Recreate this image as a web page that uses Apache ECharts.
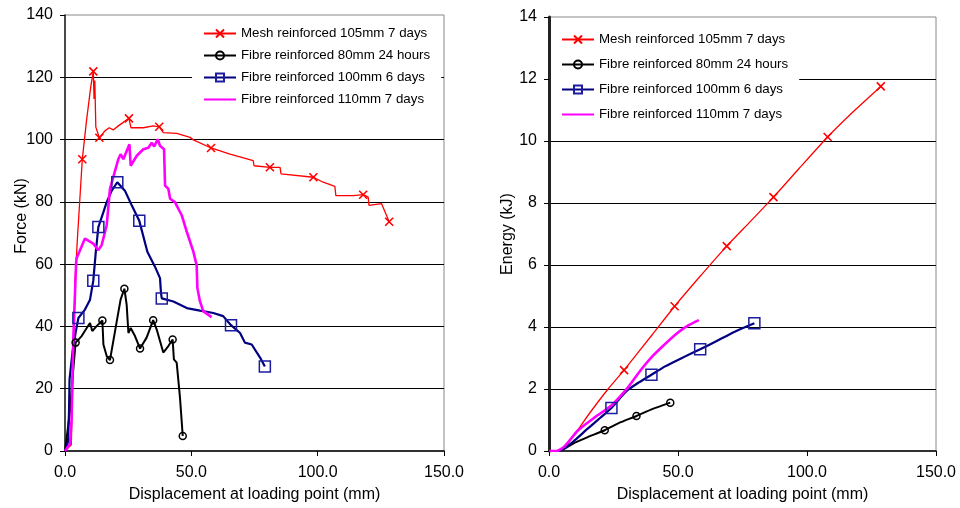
<!DOCTYPE html>
<html>
<head>
<meta charset="utf-8">
<script src="https://cdn.jsdelivr.net/npm/echarts@6/dist/echarts.min.js"></script>
<style>
  html, body { margin: 0; padding: 0; background: #fff; }
  #chart { width: 960px; height: 508px; }
</style>
</head>
<body>
<div id="chart"></div>
<script>
// series names (legend order)
const names = [
  'Mesh reinforced 105mm 7 days',
  'Fibre reinforced 80mm 24 hours',
  'Fibre reinforced 100mm 6 days',
  'Fibre reinforced 110mm 7 days'
];

// Force (kN) vs displacement (mm)
const meshForce = [[0,0],[2.5,2],[3.3,30],[4.0,55],[4.9,68],[6.85,93.7],[8.5,106],[10.2,117],[11.2,121.9],[11.5,113],[11.8,119],[12.2,104],[13.6,100.6],[15.8,102.8],[17.5,103.8],[19.1,103.1],[21.1,104.4],[25.3,106.8],[26.1,103.8],[31,103.8],[34.9,104.4],[37.3,104.1],[38.9,102.2],[44.2,102],[49.5,100.7],[50.8,99.9],[57.8,97.3],[65.3,95.3],[74.5,93.2],[74.8,91.6],[81.1,91.1],[85.1,91.1],[85.5,89],[98.3,87.9],[102.2,86.3],[106.8,85],[107.2,82],[114.1,82],[118,82.3],[120,81.5],[120.3,78.9],[125.3,79.4],[128.3,73.6]];
const meshForceMarks = [6.85, 11.2, 13.6, 25.3, 37.3, 57.8, 81.1, 98.3, 118, 128.3];

const blackForce = [[0,0],[2,13],[3,23.6],[4.2,34.8],[6.6,36.9],[8.6,39.5],[9.9,41.1],[10.8,38.5],[12.5,40.1],[14.8,41.9],[15.2,34.2],[16.5,30.5],[17.8,29.2],[20.5,41.7],[22,48.6],[23.5,52.1],[24.4,47],[25.1,37.9],[26,39.5],[27.7,36.9],[29.7,32.9],[32.3,36.4],[34.9,42],[36.3,39],[38.9,31.6],[40.9,33.7],[42.6,35.8],[43.1,29.4],[44.2,28.4],[45.5,17.2],[46.6,4.8]];
const blackForceMarks = [4.2, 14.8, 17.8, 23.5, 29.7, 34.9, 42.6, 46.6];

const blueForce = [[0,0],[1.2,3],[1.6,13],[1.8,23],[3,32],[4.2,38],[5.3,42.7],[7.9,45.4],[9.9,48.6],[11.2,54.7],[12.2,64],[13.2,71.9],[15.2,76.7],[16.5,79.9],[18.5,83.6],[20.7,86.3],[23.7,83.6],[26.4,78.9],[29.4,73.9],[32.6,64],[35.6,59.2],[37.6,55.5],[38,50.7],[38.3,49],[42.9,48],[48.2,45.9],[53.4,45.1],[58.7,44.3],[62.6,43.3],[65.7,40.4],[69.3,37.9],[71.2,34.8],[73.9,34.2],[77.2,30],[79.1,27.1]];
const blueForceMarks = [5.3, 11.2, 13.2, 20.7, 29.4, 38.3, 65.7, 79.1];

const magentaForce = [[0,0],[2,2.3],[2.6,10],[3.3,36.4],[4.4,60.3],[4.6,61.9],[7.9,68.2],[11.2,66.6],[13.2,64.5],[14.5,66.1],[16.5,72.5],[17.8,84.2],[21.1,93.7],[22,95.3],[23.1,93.7],[25.5,98.5],[26,91.6],[28.4,94.8],[31,96.9],[33,97.4],[34.3,99],[35.3,97.8],[36.7,100.1],[37.6,98],[39.2,96.9],[39.6,85.2],[40.9,84.2],[41.6,81],[43.5,79.9],[46.2,75.7],[48.2,70.4],[50.8,64],[52.1,59.7],[52.4,52.3],[53.4,48.1],[54.7,44.9],[58,43]];

// Energy (kJ) vs displacement (mm)
const meshEnergy = [[0,0],[5,0.02],[10,0.55],[16,1.25],[22.9,2.0],[29.1,2.61],[40,3.75],[48.7,4.67],[58,5.58],[68.9,6.61],[78,7.4],[87,8.19],[97,9.12],[108,10.13],[118,10.95],[128.6,11.76]];
const meshEnergyMarks = [29.1, 48.7, 68.9, 87, 108, 128.6];

const blackEnergy = [[0,0],[3,0],[6,0.08],[10,0.27],[15,0.45],[21.6,0.67],[27,0.9],[33.9,1.13],[40,1.35],[47,1.56]];
const blackEnergyMarks = [21.6, 33.9, 47];

const blueEnergy = [[0,0],[3,0],[6,0.08],[10,0.35],[15,0.72],[20,1.08],[24.2,1.39],[30,1.93],[35,2.22],[39.7,2.46],[45,2.73],[52,3.02],[58.6,3.28],[65,3.55],[72,3.85],[79.6,4.12]];
const blueEnergyMarks = [24.2, 39.7, 58.6, 79.6];

const magentaEnergy = [[0,0],[3,0],[6,0.15],[11.3,0.67],[18,1.1],[24.2,1.47],[30.7,2.06],[35,2.55],[39.7,3.02],[45,3.45],[50,3.82],[54,4.05],[58.1,4.22]];

const FONT = 'Liberation Sans, Arial, sans-serif';

const looks = [
  { color: '#ff0000', width: 1.3, symbol: 'path://M0,0L10,10M10,0L0,10', size: 8, fill: 'rgba(0,0,0,0)', border: '#ff0000', bw: 1.6 },
  { color: '#000000', width: 2, symbol: 'circle', size: 7, fill: 'rgba(0,0,0,0)', border: '#000000', bw: 1.5 },
  { color: '#000080', width: 2.2, symbol: 'rect', size: 11, fill: 'rgba(0,0,0,0)', border: '#1c1ca0', bw: 1.5 },
  { color: '#ff00ff', width: 2.6, symbol: 'none', size: 0, fill: '#ff00ff', border: '#ff00ff', bw: 0 }
];

function makeSeries(i, points, marks, axisIdx, smooth) {
  const lk = looks[i];
  return {
    name: names[i],
    type: 'line',
    xAxisIndex: axisIdx,
    yAxisIndex: axisIdx,
    smooth: smooth,
    symbol: lk.symbol,
    symbolSize: lk.size,
    showAllSymbol: true,
    animation: false,
    lineStyle: { color: lk.color, width: lk.width },
    itemStyle: { color: lk.fill, borderColor: lk.border, borderWidth: lk.bw },
    emphasis: { disabled: true },
    data: points.map(p => (marks.indexOf(p[0]) >= 0 ? { value: p } : { value: p, symbol: 'none' }))
  };
}

const xAxisBase = {
  type: 'value', min: 0, max: 150, interval: 50,
  axisLine: { lineStyle: { color: '#000', width: 1.5 } },
  axisTick: { inside: false, length: 5, lineStyle: { color: '#000' } },
  axisLabel: { fontSize: 16, color: '#000', fontFamily: FONT, margin: 14, formatter: v => v.toFixed(1) },
  splitLine: { show: false },
  name: 'Displacement at loading point (mm)',
  nameLocation: 'middle', nameGap: 36,
  nameTextStyle: { fontSize: 16, color: '#000', fontFamily: FONT }
};

function yAxis(max, interval, lineW) {
  return {
    type: 'value', min: 0, max: max, interval: interval,
    axisLine: { show: true, lineStyle: { color: '#222', width: lineW } },
    axisTick: { show: true, length: 5, lineStyle: { color: '#000' } },
    axisLabel: { fontSize: 16, color: '#000', fontFamily: FONT, margin: 12 },
    splitLine: { show: true, showMinLine: false, showMaxLine: false, lineStyle: { color: '#000', width: 1 } }
  };
}

function legend(left, top, pad, gap) {
  return {
    orient: 'vertical', left: left, top: top, padding: pad, itemGap: gap,
    itemWidth: 32, itemHeight: 10, backgroundColor: '#fff', selectedMode: false,
    textStyle: { fontSize: 13.3, color: '#000', fontFamily: FONT },
    data: names.map((n, i) => (i === 3 ? { name: n, itemStyle: { opacity: 0 } } : { name: n }))
  };
}

const chart = echarts.init(document.getElementById('chart'), null, { renderer: 'canvas' });
chart.setOption({
  backgroundColor: '#fff',
  animation: false,
  grid: [
    { left: 65, top: 15, width: 379, height: 439, show: true, borderColor: '#888', borderWidth: 1 },
    { left: 549, top: 17, width: 387, height: 437, show: true, borderColor: '#888', borderWidth: 1 }
  ],
  xAxis: [Object.assign({ gridIndex: 0 }, xAxisBase), Object.assign({ gridIndex: 1 }, xAxisBase)],
  yAxis: [Object.assign({ gridIndex: 0 }, yAxis(140, 20, 1.5)), Object.assign({ gridIndex: 1 }, yAxis(14, 2, 3))],
  legend: [legend(192, 16, [11, 11, 8, 11], 9), legend(551, 18, [15, 11, 6, 10], 12)],
  graphic: [
    { type: 'text', rotation: Math.PI / 2, x: 22, y: 216,
      style: { text: 'Force (kN)', fill: '#000', font: '16px ' + FONT, align: 'center', verticalAlign: 'middle' } },
    { type: 'text', rotation: Math.PI / 2, x: 508, y: 234,
      style: { text: 'Energy (kJ)', fill: '#000', font: '16px ' + FONT, align: 'center', verticalAlign: 'middle' } }
  ],
  series: [
    makeSeries(0, meshForce, meshForceMarks, 0, false),
    makeSeries(1, blackForce, blackForceMarks, 0, false),
    makeSeries(2, blueForce, blueForceMarks, 0, false),
    makeSeries(3, magentaForce, [], 0, false),
    makeSeries(0, meshEnergy, meshEnergyMarks, 1, 0.2),
    makeSeries(1, blackEnergy, blackEnergyMarks, 1, 0.2),
    makeSeries(2, blueEnergy, blueEnergyMarks, 1, 0.2),
    makeSeries(3, magentaEnergy, [], 1, 0.2)
  ]
});
</script>
</body>
</html>
